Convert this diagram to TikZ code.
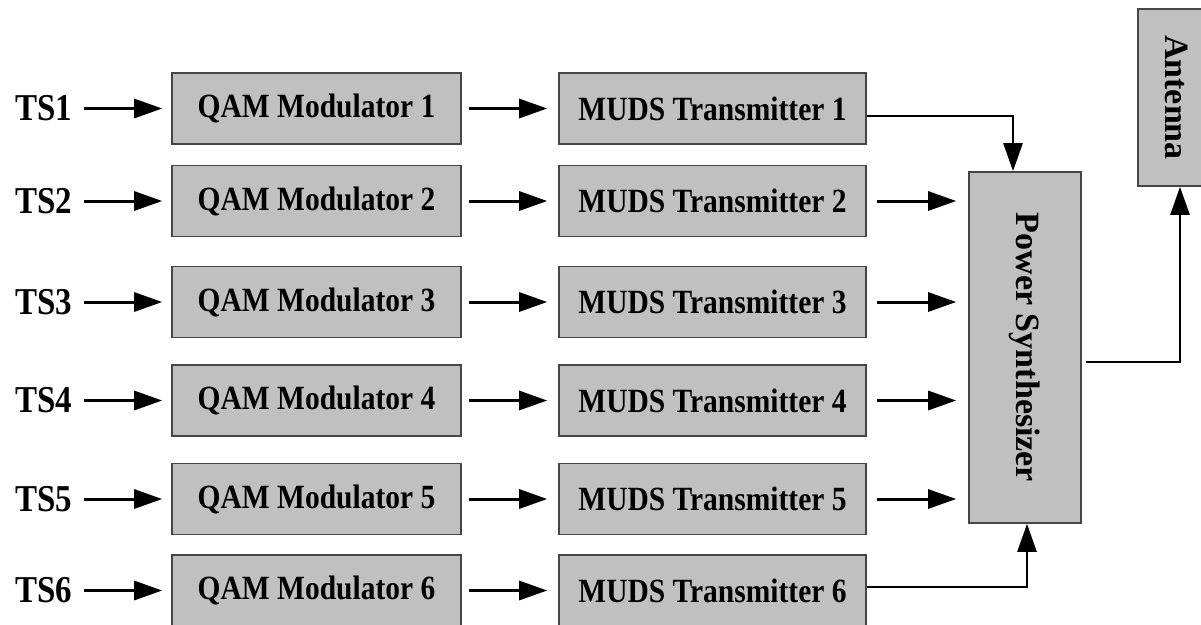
\documentclass[tikz,border=0pt]{standalone}
\usepackage{graphicx}
\usepackage{fontspec}
\setmainfont{Liberation Serif}
\usetikzlibrary{arrows.meta}
\definecolor{boxfill}{RGB}{192,192,192}
\definecolor{boxborder}{RGB}{70,70,70}
\newcommand{\vs}[1]{\scalebox{1}[1.15]{#1}}
\tikzset{
  blk/.style={draw=boxborder, fill=boxfill, line width=1.6pt, inner sep=0pt,
    minimum height=71pt, font=\bfseries\fontsize{29.5}{30}\selectfont},
  qam/.style={blk, minimum width=289pt},
  muds/.style={blk, minimum width=307pt},
  tslab/.style={inner sep=0pt, font=\bfseries\fontsize{33}{34}\selectfont},
  arr/.style={line width=3pt, -{Triangle[length=28pt,width=19pt]}},
  wire/.style={line width=2.5pt, -{Triangle[length=28pt,width=19pt]}}
}
\begin{document}
\begin{tikzpicture}[x=1pt,y=-1pt]
\useasboundingbox (0,0) rectangle (1201,624);
\foreach \i/\y in {1/108.5,2/201,3/302,4/400.5,5/499,6/590.5}{
  \node[tslab] (ts\i) at (43.5,\y) {\vs{TS\i}};
  \node[qam] (q\i) at (316.5,\y) {\vs{QAM Modulator \i}};
  \node[muds] (m\i) at (712.5,\y) {\vs{MUDS Transmitter \i}};
  \draw[arr, shorten <=12pt, shorten >=9pt] (ts\i) -- (q\i);
  \draw[arr, shorten <=7pt, shorten >=11pt] (q\i) -- (m\i);
}
\node[blk, minimum width=112pt, minimum height=351pt] (ps) at (1025,347.5)
  {\rotatebox{-90}{\fontsize{34}{35}\selectfont Power Synthesizer}};
\node[blk, minimum width=78pt, minimum height=177pt] (ant) at (1177,97.5)
  {\rotatebox{-90}{\fontsize{34}{35}\selectfont Antenna}};
\foreach \i in {2,3,4,5}{
  \draw[arr, shorten <=10pt, shorten >=12pt] (m\i.east) -- (m\i.east -| ps.west);
}
\draw[wire] ([yshift=-7.5pt]m1.east) -| ([xshift=-12pt]ps.north);
\draw[wire] ([yshift=3.5pt]m6.east) -| ([xshift=2pt]ps.south);
\coordinate (psout) at ([yshift=-14.5pt]ps.east);
\draw[wire, shorten <=4pt] (psout) -| ([xshift=3pt]ant.south);
\end{tikzpicture}
\end{document}
